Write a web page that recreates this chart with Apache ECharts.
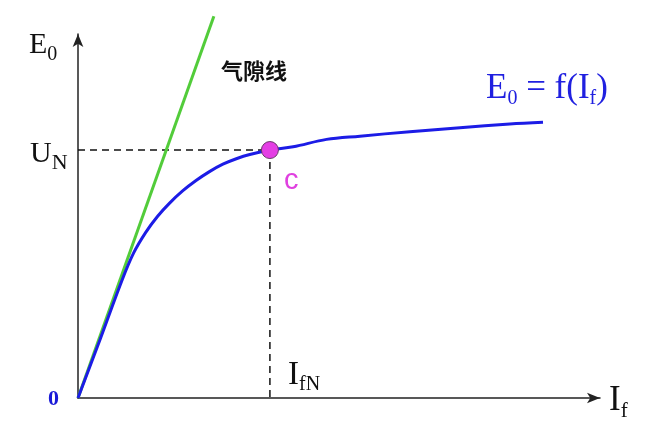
<!DOCTYPE html>
<html>
<head>
<meta charset="utf-8">
<script src="https://cdn.jsdelivr.net/npm/echarts@6/dist/echarts.min.js"></script>
<style>html,body{margin:0;padding:0;background:#fff;}#c{width:658px;height:430px;}</style>
</head>
<body>
<div id="c"></div>
<script>
// No-load characteristic E0 = f(If), normalised so that rated point C = (1, 1)
const curveX = [0, 0.117, 0.231, 0.290, 0.353, 0.415, 0.476, 0.545, 0.615, 0.685, 0.755, 0.825, 0.895, 1.0, 1.121, 1.295, 1.469, 1.729, 1.990, 2.250, 2.423];
const curveY = [0, 0.240, 0.478, 0.585, 0.668, 0.733, 0.785, 0.835, 0.877, 0.913, 0.943, 0.965, 0.982, 1.0, 1.013, 1.043, 1.056, 1.074, 1.090, 1.105, 1.112];
// Air-gap line (straight)
const airGapX = [0, 0.708];
const airGapY = [0, 1.540];
// Rated point C
const ratedX = [1.0];
const ratedY = [1.0];
// Axis extents
const xMax = 2.72;
const yMax = 1.468;

const chart = echarts.init(document.getElementById('c'));
const serif = '"Liberation Serif", "DejaVu Serif", serif';

const option = {
  animation: false,
  backgroundColor: '#fff',
  grid: { left: 78, top: 34, width: 522, height: 364 },
  xAxis: {
    type: 'value', min: 0, max: xMax,
    axisLine: { show: true, onZero: false, symbol: ['none', 'arrow'], symbolSize: [8, 13], lineStyle: { color: '#222', width: 1.5 } },
    axisTick: { show: false }, axisLabel: { show: false }, splitLine: { show: false }
  },
  yAxis: {
    type: 'value', min: 0, max: yMax,
    axisLine: { show: true, onZero: false, symbol: ['none', 'arrow'], symbolSize: [8, 13], lineStyle: { color: '#222', width: 1.5 } },
    axisTick: { show: false }, axisLabel: { show: false }, splitLine: { show: false }
  },
  title: [
    { left: 24, top: 20, text: '{a|E}{b|0}', textStyle: { rich: {
      a: { fontFamily: serif, fontSize: 30, fontWeight: 'normal', color: '#111' },
      b: { fontFamily: serif, fontSize: 20, fontWeight: 'normal', color: '#111', padding: [20, 0, 0, 0] } } } },
    { left: 25, top: 129, text: '{a|U}{b|N}', textStyle: { rich: {
      a: { fontFamily: serif, fontSize: 30, fontWeight: 'normal', color: '#111' },
      b: { fontFamily: serif, fontSize: 22, fontWeight: 'normal', color: '#111', padding: [18, 0, 0, 0] } } } },
    { left: 43, top: 383, text: '0', textStyle: { fontFamily: serif, fontSize: 22, fontWeight: 'bold', color: '#1a1ad8' } },
    { left: 283, top: 350, text: '{a|I}{b|fN}', textStyle: { rich: {
      a: { fontFamily: serif, fontSize: 33, fontWeight: 'normal', color: '#111' },
      b: { fontFamily: serif, fontSize: 20, fontWeight: 'normal', color: '#111', padding: [20, 0, 0, 0] } } } },
    { left: 604, top: 374, text: '{a|I}{b|f}', textStyle: { rich: {
      a: { fontFamily: serif, fontSize: 35, fontWeight: 'normal', color: '#111' },
      b: { fontFamily: serif, fontSize: 21, fontWeight: 'normal', color: '#111', padding: [22, 0, 0, 0] } } } },
    { left: 481, top: 64, text: '{a|E}{b|0}{a| = f(I}{b|f}{a|)}', textStyle: { rich: {
      a: { fontFamily: serif, fontSize: 35, fontWeight: 'normal', color: '#2020e0' },
      b: { fontFamily: serif, fontSize: 20, fontWeight: 'normal', color: '#2020e0', padding: [20, 0, 0, 0] } } } },
    { left: 216, top: 55, text: '气隙线', textStyle: { fontFamily: '"Noto Sans CJK SC"', fontSize: 22, fontWeight: 'bold', color: '#111' } },
    { left: 279, top: 161, text: 'c', textStyle: { fontFamily: '"Liberation Sans", Arial, sans-serif', fontSize: 29, fontWeight: 'normal', color: '#e040e0' } }
  ],
  series: [
    { type: 'line', data: curveX.map((x, i) => [x, curveY[i]]), smooth: 0.35, symbol: 'none',
      lineStyle: { color: '#1c1ce6', width: 3 }, z: 3 },
    { type: 'line', data: airGapX.map((x, i) => [x, airGapY[i]]), symbol: 'none', clip: false,
      lineStyle: { color: '#52cc3a', width: 3 }, z: 2 },
    { type: 'line', data: [[0, ratedY[0]], [ratedX[0], ratedY[0]]], symbol: 'none',
      lineStyle: { color: '#111', width: 1.5, type: [7, 5] }, z: 1 },
    { type: 'line', data: [[ratedX[0], ratedY[0]], [ratedX[0], 0]], symbol: 'none',
      lineStyle: { color: '#111', width: 1.5, type: [7, 5] }, z: 1 },
    { type: 'scatter', data: ratedX.map((x, i) => [x, ratedY[i]]), symbol: 'circle', symbolSize: 17,
      itemStyle: { color: '#e43ee4', borderColor: '#6a3a6a', borderWidth: 1, opacity: 1 }, z: 5 }
  ]
};
chart.setOption(option);
</script>
</body>
</html>
